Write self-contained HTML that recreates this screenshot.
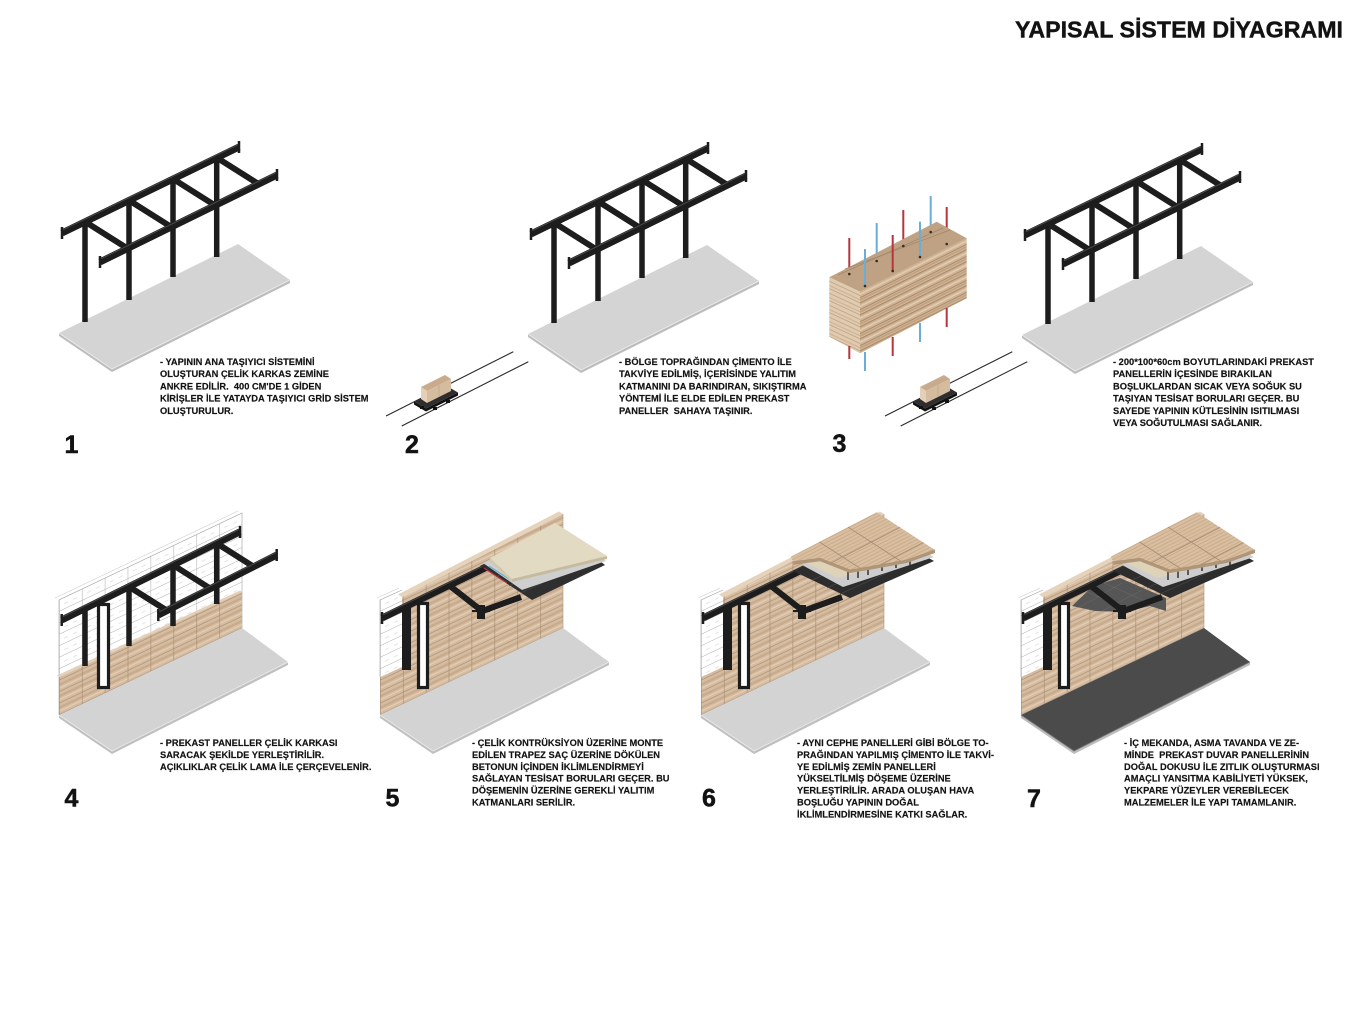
<!DOCTYPE html>
<html><head><meta charset="utf-8"><style>
html,body{margin:0;padding:0;background:#fff;}
svg{display:block;}
text{font-family:"Liberation Sans",Arial,sans-serif;font-weight:bold;fill:#121212;}
.t{font-size:9.3px;white-space:pre;stroke:#121212;stroke-width:0.15;}
.n{font-size:25px;stroke:#121212;stroke-width:0.5;}
</style></head><body>
<svg width="1364" height="1024" viewBox="0 0 1364 1024" xmlns="http://www.w3.org/2000/svg">
<defs>
 <pattern id="brick" patternUnits="userSpaceOnUse" x="59" y="7.1" width="22.9" height="11.5" patternTransform="skewY(-25.4)">
  <rect width="22.9" height="11.5" fill="#d5bb9f"/>
  <rect y="3" width="22.9" height="2.5" fill="#c8ab8d"/>
  <rect y="7" width="22.9" height="1.5" fill="#e2ccb3"/>
  <line x1="0" y1="11.2" x2="22.9" y2="11.2" stroke="#a38a70" stroke-width="0.6"/>
  <line x1="0.3" y1="0" x2="0.3" y2="11.5" stroke="#a38a70" stroke-width="0.6"/>
 </pattern>
 <pattern id="wire" patternUnits="userSpaceOnUse" x="59" y="7.1" width="22.9" height="11.5" patternTransform="skewY(-25.4)">
  <path d="M0.3 0V11.5M0 11.2H22.9" stroke="#a8a8a8" stroke-width="0.5" fill="none"/>
  <path d="M5 6h4M14 6h4" stroke="#c8c8c8" stroke-width="0.5"/>
 </pattern>
 <pattern id="tileP" patternUnits="userSpaceOnUse" width="20" height="3.6" patternTransform="skewY(-27)">
  <rect width="20" height="3.6" fill="#d9bea0"/>
  <rect y="2.4" width="20" height="0.9" fill="#c6a887"/>
 </pattern>
 <pattern id="woodL" patternUnits="userSpaceOnUse" width="200" height="12" patternTransform="skewY(-26.6)">
  <rect width="200" height="12" fill="#cfb292"/>
  <rect y="1" width="200" height="1.2" fill="#a88a6c"/>
  <rect y="4" width="200" height="2" fill="#e0cab0"/>
  <rect y="8" width="200" height="0.8" fill="#9c7e62"/>
  <rect y="10" width="200" height="1.4" fill="#bfa081"/>
 </pattern>
 <pattern id="woodS" patternUnits="userSpaceOnUse" width="200" height="12" patternTransform="skewY(25)">
  <rect width="200" height="12" fill="#e0cbb1"/>
  <rect y="2" width="200" height="1" fill="#c4a688"/>
  <rect y="6" width="200" height="1.5" fill="#d1b596"/>
  <rect y="9.5" width="200" height="0.7" fill="#b59879"/>
 </pattern>

 <g id="frame">
  <polygon points="59,333 112,369 290,280 238,244" fill="#d4d4d4"/>
  <polygon points="59,333 112,369 290,280 290,283 112,372 59,336" fill="#bdbdbd"/>
  <polyline points="59,333 112,369 290,280" fill="none" stroke="#ededed" stroke-width="0.8"/>
  <g stroke="#1d1d1d" stroke-width="5.5">
   <line x1="85" y1="222" x2="85" y2="322"/>
   <line x1="129" y1="200" x2="129" y2="300"/>
   <line x1="173" y1="179" x2="173" y2="277"/>
   <line x1="216.7" y1="158" x2="216.7" y2="257"/>
  </g>
  <line x1="62" y1="233" x2="239" y2="147" stroke="#1d1d1d" stroke-width="7"/>
  <line x1="63" y1="229.8" x2="239" y2="144.2" stroke="#4a4a4a" stroke-width="1"/>
  <line x1="62" y1="227" x2="62" y2="239" stroke="#1d1d1d" stroke-width="2.5"/>
  <line x1="239" y1="141" x2="239" y2="153" stroke="#1d1d1d" stroke-width="2.5"/>
  <g stroke="#1d1d1d" stroke-width="6">
   <line x1="85" y1="221.6" x2="127.5" y2="248.5"/>
   <line x1="129" y1="200.3" x2="171.3" y2="227"/>
   <line x1="173" y1="178.9" x2="215" y2="205.4"/>
   <line x1="216.7" y1="157.6" x2="258.5" y2="184"/>
  </g>
  <line x1="100" y1="262" x2="277" y2="175" stroke="#1d1d1d" stroke-width="7"/>
  <line x1="101" y1="258.8" x2="277" y2="172.2" stroke="#4a4a4a" stroke-width="1"/>
  <line x1="100" y1="256" x2="100" y2="268" stroke="#1d1d1d" stroke-width="2.5"/>
  <line x1="277" y1="169" x2="277" y2="181" stroke="#1d1d1d" stroke-width="2.5"/>
 </g>

 <g id="cart">
  <line x1="386" y1="416" x2="513.3" y2="351.7" stroke="#2a2a2a" stroke-width="1.1"/>
  <line x1="401.7" y1="426" x2="528.3" y2="361.7" stroke="#2a2a2a" stroke-width="1.1"/>
  <polygon points="414,401.5 426,408.5 458,392.5 446,385.5" fill="#2e2e2e"/>
  <polygon points="414,401.5 426,408.5 458,392.5 458,395.5 426,411.5 414,404.5" fill="#111"/>
  <rect x="420" y="406" width="4" height="3" fill="#111"/>
  <rect x="433" y="407" width="4" height="3" fill="#111"/>
  <rect x="446" y="400" width="4" height="3" fill="#111"/>
  <polygon points="421,387 427,391 451,379 445,375" fill="#c8ab8c"/>
  <polygon points="427,391 451,379 451,391 427,403" fill="#d6bc9f"/>
  <polygon points="421,387 427,391 427,403 421,399" fill="#e4d0b8"/>
  <line x1="439" y1="385" x2="439" y2="397" stroke="#b39a7e" stroke-width="0.5"/>
 </g>

 <g id="floorL">
  <polygon points="59,715 112,751 288,662 242,628" fill="#d3d3d3"/>
  <polygon points="59,715 112,751 288,662 288,665 112,754 59,718" fill="#c0c0c0"/>
  <polyline points="59,715 112,751 288,662" fill="none" stroke="#ececec" stroke-width="0.8"/>
 </g>
 <g id="floorD">
  <polygon points="59,715 112,751 288,662 242,628" fill="#4b4b4b"/>
  <polygon points="59,715 112,751 288,662 288,665 112,754 59,718" fill="#bdbdbd"/>
  <polyline points="59,715 112,751 288,662" fill="none" stroke="#777" stroke-width="0.8"/>
 </g>

 <g id="wallP">
  <polygon points="59,600 81,590 81,667 59,677" fill="url(#wire)"/>
  <polyline points="59,677 59,600 81,590" fill="none" stroke="#a0a0a0" stroke-width="0.6"/>
  <polyline points="56,598 78,588" fill="none" stroke="#c0c0c0" stroke-width="0.5"/>
  <polygon points="59,715 59,677 81,667 81,597 242,514 242,628" fill="url(#brick)"/>
  <polygon points="77,594.5 238,511.5 242,514 81,597" fill="#e6d3bc"/>
  <line x1="242" y1="514" x2="242" y2="628" stroke="#b09678" stroke-width="0.6"/>
 </g>
 <g id="steelP">
  <rect x="81" y="606" width="9" height="64" fill="#1d1d1d"/>
  <rect x="97.5" y="603.5" width="9" height="84" fill="#fff" stroke="#1d1d1d" stroke-width="3.2"/>
  <line x1="61" y1="618" x2="166" y2="567" stroke="#1d1d1d" stroke-width="7"/>
  <line x1="62" y1="614.8" x2="166" y2="564.2" stroke="#4a4a4a" stroke-width="1"/>
  <line x1="61" y1="612" x2="61" y2="624" stroke="#1d1d1d" stroke-width="2.5"/>
  <line x1="129" y1="586" x2="161" y2="611" stroke="#1d1d1d" stroke-width="6"/>
  <line x1="156" y1="613" x2="200" y2="597" stroke="#1d1d1d" stroke-width="6"/>
  <rect x="156" y="605" width="8" height="14" fill="#1d1d1d"/>
  <line x1="151" y1="611" x2="169" y2="611" stroke="#1d1d1d" stroke-width="2"/>
 </g>

 <g id="top5">
  <polygon points="159,566 211,600 284,565 235,527" fill="#2f2f2f"/>
  <g stroke="#4d4d4d" stroke-width="0.6">
   <line x1="175" y1="577" x2="245" y2="545"/>
   <line x1="188" y1="586" x2="258" y2="553"/>
   <line x1="200" y1="593" x2="270" y2="560"/>
  </g>
  <polygon points="162,563 201,590 285,561 235,525" fill="#cfcfcf"/>
  <g stroke-width="1.2">
   <line x1="163" y1="568" x2="186" y2="583" stroke="#b5363d"/>
   <line x1="168" y1="566" x2="191" y2="581" stroke="#6aaed6"/>
   <line x1="173" y1="564" x2="196" y2="579" stroke="#b5363d"/>
   <line x1="178" y1="562" x2="199" y2="576" stroke="#6aaed6"/>
  </g>
  <polygon points="169,558 191,579 286,556 234,523" fill="#e3dac3"/>
  <polygon points="191,579 286,556 286,559 191,582" fill="#c6bb9e"/>
  <polygon points="169,558 191,579 191,582 168,561" fill="#d2c8ad"/>
 </g>

 <clipPath id="tileClip">
  <polygon points="148.7,556.7 234.7,512.3 293,550 264.7,560 228,566.7 208,570 178,558.3 151.3,561.7"/>
 </clipPath>
 <g id="top6">
  <polygon points="151,571 208,598 292,561 240,532" fill="#2d2d2d"/>
  <g stroke="#4d4d4d" stroke-width="0.6">
   <line x1="170" y1="580" x2="250" y2="545"/>
   <line x1="185" y1="588" x2="265" y2="552"/>
   <line x1="198" y1="594" x2="280" y2="557"/>
  </g>
  <polygon points="160,565 201,587 292,557 240,529" fill="#cdcdcd"/>
  <polygon points="164,563 196,578 233,568 203,552" fill="#ded3b8"/>
  <g stroke="#1d1d1d" stroke-width="1.3">
   <line x1="206" y1="572" x2="206" y2="580"/>
   <line x1="216" y1="570" x2="216" y2="578"/>
   <line x1="226" y1="567" x2="226" y2="575"/>
   <line x1="240" y1="563" x2="240" y2="571"/>
   <line x1="254" y1="560" x2="254" y2="568"/>
   <line x1="268" y1="557" x2="268" y2="565"/>
  </g>
  <polygon points="151.3,561.7 178,558.3 208,570 228,566.7 264.7,560 293,550 293,553 264.7,563 228,569.7 208,573 178,561.3 151.3,564.7" fill="#b09577"/>
  <polygon points="148.7,556.7 234.7,512.3 293,550 264.7,560 228,566.7 208,570 178,558.3 151.3,561.7" fill="url(#tileP)"/>
  <g clip-path="url(#tileClip)" stroke="#a38a70" stroke-width="0.8">
   <line x1="177.4" y1="541.9" x2="247.4" y2="587.1"/>
   <line x1="206" y1="527.1" x2="276" y2="572.3"/>
   <line x1="172" y1="571.8" x2="275.2" y2="518.5"/>
   <line x1="195.3" y1="586.9" x2="298.5" y2="533.6"/>
  </g>
  <polyline points="293,550 264.7,560 228,566.7 208,570 178,558.3 151.3,561.7" fill="none" stroke="#ad9274" stroke-width="0.8"/>
 </g>
</defs>

<rect width="1364" height="1024" fill="#fff"/>

<text x="1015" y="37.3" font-size="23" textLength="328" lengthAdjust="spacingAndGlyphs" stroke="#121212" stroke-width="0.4">YAPISAL SİSTEM DİYAGRAMI</text>

<use href="#frame"/>
<use href="#frame" transform="translate(469,1)"/>
<use href="#cart"/>
<use href="#frame" transform="translate(963,2)"/>
<use href="#cart" transform="translate(499,0)"/>

<g stroke-width="2">
 <line x1="849.3" y1="238" x2="849.3" y2="274" stroke="#b5363d"/>
 <line x1="876.7" y1="223" x2="876.7" y2="261" stroke="#6aaed6"/>
 <line x1="903.3" y1="210" x2="903.3" y2="246" stroke="#b5363d"/>
 <line x1="930.7" y1="196" x2="930.7" y2="232" stroke="#6aaed6"/>
 <line x1="946.7" y1="207" x2="946.7" y2="244" stroke="#b5363d"/>
</g>
<polygon points="829.3,277.3 860,291.7 966.7,238.3 936.7,221.7" fill="#bfa283"/>
<g stroke="#a0866b" stroke-width="0.7">
 <line x1="845" y1="269" x2="950" y2="230"/>
 <line x1="838" y1="275" x2="943" y2="228"/>
</g>
<polygon points="860,291.7 966.7,238.3 966.7,298.3 860,353.3" fill="url(#woodL)"/>
<polygon points="829.3,277.3 860,291.7 860,353.3 829.3,336.7" fill="url(#woodS)"/>
<g stroke-width="2">
 <line x1="865" y1="249" x2="865" y2="286" stroke="#6aaed6"/>
 <line x1="892.7" y1="235" x2="892.7" y2="271" stroke="#b5363d"/>
 <line x1="920" y1="221.7" x2="920" y2="257" stroke="#6aaed6"/>
 <line x1="849.3" y1="346" x2="849.3" y2="359" stroke="#b5363d"/>
 <line x1="865" y1="352" x2="865" y2="371" stroke="#6aaed6"/>
 <line x1="892.7" y1="337" x2="892.7" y2="356" stroke="#b5363d"/>
 <line x1="920" y1="323" x2="920" y2="342" stroke="#6aaed6"/>
 <line x1="946.7" y1="308" x2="946.7" y2="327" stroke="#b5363d"/>
</g>
<g fill="#3a2a1e">
 <circle cx="849.3" cy="274" r="1.3"/><circle cx="865" cy="286" r="1.3"/>
 <circle cx="876.7" cy="261" r="1.3"/><circle cx="892.7" cy="271" r="1.3"/>
 <circle cx="903.3" cy="246" r="1.3"/><circle cx="920" cy="257" r="1.3"/>
 <circle cx="930.7" cy="232" r="1.3"/><circle cx="946.7" cy="244" r="1.3"/>
</g>

<g>
 <use href="#floorL"/>
 <polygon points="59,600 242,513 242,628 59,715" fill="url(#wire)"/>
 <polyline points="59,715 59,600 242,513 242,628" fill="none" stroke="#a0a0a0" stroke-width="0.6"/>
 <polyline points="55,598 238,511" fill="none" stroke="#c0c0c0" stroke-width="0.5"/>
 <polygon points="59,715 59,677 242,592 242,628" fill="url(#brick)"/>
 <polygon points="59,677 242,592 240,590.5 57,675.5" fill="#e4d0b8"/>
 <g stroke="#1d1d1d" stroke-width="5.5">
  <line x1="85" y1="608.5" x2="85" y2="666"/>
  <line x1="129" y1="586.7" x2="129" y2="646"/>
  <line x1="173" y1="565" x2="173" y2="626"/>
  <line x1="216.7" y1="543.3" x2="216.7" y2="604"/>
 </g>
 <rect x="98.5" y="604.5" width="10" height="83" fill="#fff" stroke="#1d1d1d" stroke-width="3.2"/>
 <line x1="61.7" y1="620" x2="240" y2="531.7" stroke="#1d1d1d" stroke-width="7"/>
 <line x1="62.7" y1="616.8" x2="240" y2="528.9" stroke="#4a4a4a" stroke-width="1"/>
 <line x1="61.7" y1="614" x2="61.7" y2="626" stroke="#1d1d1d" stroke-width="2.5"/>
 <line x1="240" y1="526" x2="240" y2="538" stroke="#1d1d1d" stroke-width="2.5"/>
 <g stroke="#1d1d1d" stroke-width="6">
  <line x1="129" y1="586.7" x2="166.9" y2="610.6"/>
  <line x1="173" y1="565" x2="210.4" y2="588.6"/>
  <line x1="216.7" y1="543.3" x2="253.7" y2="566.7"/>
 </g>
 <line x1="158.3" y1="615" x2="276.7" y2="555" stroke="#1d1d1d" stroke-width="7"/>
 <line x1="159.3" y1="611.8" x2="276.7" y2="552.2" stroke="#4a4a4a" stroke-width="1"/>
 <line x1="158.3" y1="609" x2="158.3" y2="621" stroke="#1d1d1d" stroke-width="2.5"/>
 <line x1="276.7" y1="549" x2="276.7" y2="561" stroke="#1d1d1d" stroke-width="2.5"/>
</g>

<g transform="translate(321,0)">
 <use href="#floorL"/>
 <use href="#wallP"/>
 <use href="#steelP"/>
 <use href="#top5"/>
</g>
<g transform="translate(642,0)">
 <use href="#floorL"/>
 <use href="#wallP"/>
 <use href="#steelP"/>
 <use href="#top6"/>
</g>
<g transform="translate(962,0)">
 <use href="#floorD"/>
 <use href="#wallP"/>
 <polygon points="110,606 131,586 158,578 204,598 204,611 188,606 163,612 133,611" fill="#565656"/>
 <g stroke="#6c6c6c" stroke-width="0.5">
  <line x1="125" y1="592" x2="170" y2="611"/>
  <line x1="142" y1="583" x2="190" y2="604"/>
  <line x1="118" y1="607" x2="160" y2="583"/>
  <line x1="140" y1="611" x2="180" y2="590"/>
 </g>
 <use href="#steelP"/>
 <use href="#top6"/>
</g>

<text class="n" x="71.5" y="453" text-anchor="middle">1</text>
<text class="n" x="412" y="453" text-anchor="middle">2</text>
<text class="n" x="839.5" y="452" text-anchor="middle">3</text>
<text class="n" x="71.5" y="806.5" text-anchor="middle">4</text>
<text class="n" x="392.5" y="806.5" text-anchor="middle">5</text>
<text class="n" x="709" y="806.5" text-anchor="middle">6</text>
<text class="n" x="1034" y="807" text-anchor="middle">7</text>

<g>
 <text class="t" x="160" y="365">- YAPININ ANA TAŞIYICI SİSTEMİNİ</text>
 <text class="t" x="160" y="377.2">OLUŞTURAN ÇELİK KARKAS ZEMİNE</text>
 <text class="t" x="160" y="389.4">ANKRE EDİLİR.  400 CM'DE 1 GİDEN</text>
 <text class="t" x="160" y="401.6">KİRİŞLER İLE YATAYDA TAŞIYICI GRİD SİSTEM</text>
 <text class="t" x="160" y="413.8">OLUŞTURULUR.</text>
</g>
<g>
 <text class="t" x="619" y="365">- BÖLGE TOPRAĞINDAN ÇİMENTO İLE</text>
 <text class="t" x="619" y="377.2">TAKVİYE EDİLMİŞ, İÇERİSİNDE YALITIM</text>
 <text class="t" x="619" y="389.4">KATMANINI DA BARINDIRAN, SIKIŞTIRMA</text>
 <text class="t" x="619" y="401.6">YÖNTEMİ İLE ELDE EDİLEN PREKAST</text>
 <text class="t" x="619" y="413.8">PANELLER  SAHAYA TAŞINIR.</text>
</g>
<g>
 <text class="t" x="1113" y="365">- 200*100*60cm BOYUTLARINDAKİ PREKAST</text>
 <text class="t" x="1113" y="377.2">PANELLERİN İÇESİNDE BIRAKILAN</text>
 <text class="t" x="1113" y="389.4">BOŞLUKLARDAN SICAK VEYA SOĞUK SU</text>
 <text class="t" x="1113" y="401.6">TAŞIYAN TESİSAT BORULARI GEÇER. BU</text>
 <text class="t" x="1113" y="413.8">SAYEDE YAPININ KÜTLESİNİN ISITILMASI</text>
 <text class="t" x="1113" y="426">VEYA SOĞUTULMASI SAĞLANIR.</text>
</g>
<g>
 <text class="t" x="160" y="746">- PREKAST PANELLER ÇELİK KARKASI</text>
 <text class="t" x="160" y="757.9">SARACAK ŞEKİLDE YERLEŞTİRİLİR.</text>
 <text class="t" x="160" y="769.8">AÇIKLIKLAR ÇELİK LAMA İLE ÇERÇEVELENİR.</text>
</g>
<g>
 <text class="t" x="472" y="746">- ÇELİK KONTRÜKSİYON ÜZERİNE MONTE</text>
 <text class="t" x="472" y="757.9">EDİLEN TRAPEZ SAÇ ÜZERİNE DÖKÜLEN</text>
 <text class="t" x="472" y="769.8">BETONUN İÇİNDEN İKLİMLENDİRMEYİ</text>
 <text class="t" x="472" y="781.7">SAĞLAYAN TESİSAT BORULARI GEÇER. BU</text>
 <text class="t" x="472" y="793.6">DÖŞEMENİN ÜZERİNE GEREKLİ YALITIM</text>
 <text class="t" x="472" y="805.5">KATMANLARI SERİLİR.</text>
</g>
<g>
 <text class="t" x="797" y="746">- AYNI CEPHE PANELLERİ GİBİ BÖLGE TO-</text>
 <text class="t" x="797" y="757.9">PRAĞINDAN YAPILMIŞ ÇİMENTO İLE TAKVİ-</text>
 <text class="t" x="797" y="769.8">YE EDİLMİŞ ZEMİN PANELLERİ</text>
 <text class="t" x="797" y="781.7">YÜKSELTİLMİŞ DÖŞEME ÜZERİNE</text>
 <text class="t" x="797" y="793.6">YERLEŞTİRİLİR. ARADA OLUŞAN HAVA</text>
 <text class="t" x="797" y="805.5">BOŞLUĞU YAPININ DOĞAL</text>
 <text class="t" x="797" y="817.4">İKLİMLENDİRMESİNE KATKI SAĞLAR.</text>
</g>
<g>
 <text class="t" x="1124" y="746">- İÇ MEKANDA, ASMA TAVANDA VE ZE-</text>
 <text class="t" x="1124" y="757.9">MİNDE  PREKAST DUVAR PANELLERİNİN</text>
 <text class="t" x="1124" y="769.8">DOĞAL DOKUSU İLE ZITLIK OLUŞTURMASI</text>
 <text class="t" x="1124" y="781.7">AMAÇLI YANSITMA KABİLİYETİ YÜKSEK,</text>
 <text class="t" x="1124" y="793.6">YEKPARE YÜZEYLER VEREBİLECEK</text>
 <text class="t" x="1124" y="805.5">MALZEMELER İLE YAPI TAMAMLANIR.</text>
</g>
</svg>
</body></html>
